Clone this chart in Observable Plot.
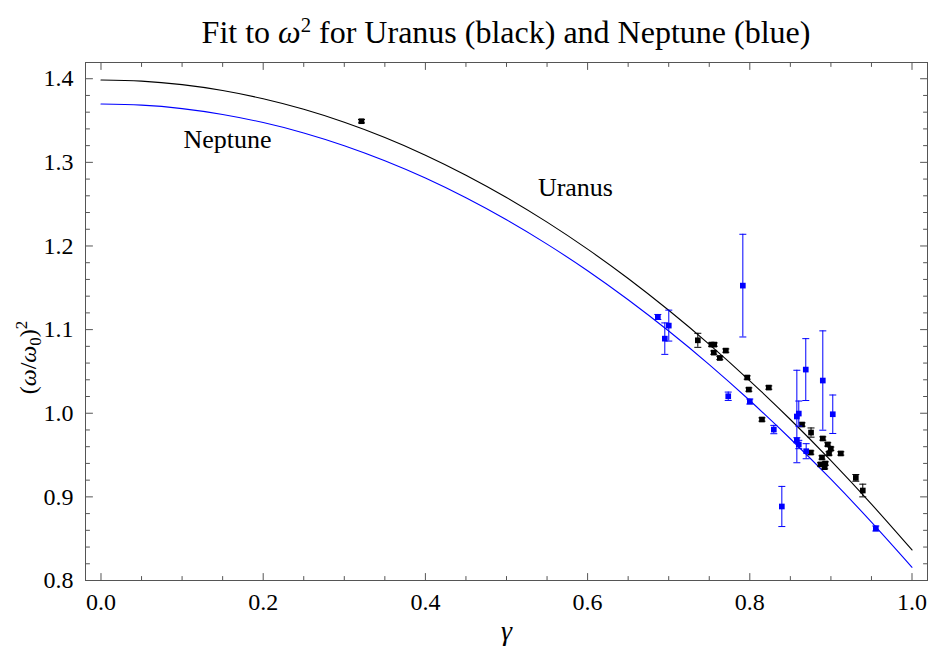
<!DOCTYPE html>
<html><head><meta charset="utf-8">
<script src="https://cdn.jsdelivr.net/npm/d3@7"></script>
<script src="https://cdn.jsdelivr.net/npm/@observablehq/plot@0.6"></script>
<style>
body{margin:0;background:#fff;}
#wrap{width:934px;height:652px;position:relative;overflow:hidden;font-family:"Liberation Serif","Times New Roman",serif;}
#title{position:absolute;left:78px;right:0;top:16px;text-align:center;font-size:32px;line-height:32px;white-space:nowrap;color:#000;}
#title sup{font-size:65%;vertical-align:0.55em;line-height:0;}
#chart{position:absolute;top:55px;left:0;}
</style></head><body>
<div id="wrap">
<div id="title">Fit to <i>ω</i><sup>2</sup> for Uranus (black) and Neptune (blue)</div>
<div id="chart"></div>
</div>
<script>
// ---- data ----
const uranusG   = [0.3212, 0.7359, 0.7528, 0.7561, 0.7556, 0.7704, 0.7630, 0.7968, 0.7988, 0.8234, 0.8150, 0.8644, 0.8755, 0.8752, 0.8900, 0.8961, 0.8999, 0.8977, 0.9122, 0.8890, 0.8872, 0.8931, 0.8923, 0.9307, 0.9393];
const uranusY   = [1.3492, 1.0872, 1.0821, 1.0821, 1.0725, 1.0749, 1.0661, 1.0427, 1.0283, 1.0307, 0.9925, 0.9865, 0.9769, 0.9530, 0.9698, 0.9627, 0.9576, 0.9519, 0.9519, 0.9471, 0.9388, 0.9399, 0.9355, 0.9227, 0.9076];
const uranusErr = [0.002, 0.0084, 0.002, 0.002, 0.002, 0.002, 0.002, 0.002, 0.002, 0.002, 0.002, 0.002, 0.0055, 0.002, 0.002, 0.002, 0.002, 0.002, 0.002, 0.002, 0.002, 0.002, 0.002, 0.004, 0.0076];

const neptuneG   = [0.6866, 0.7001, 0.6952, 0.7914, 0.7734, 0.8000, 0.8296, 0.8690, 0.8900, 0.9023, 0.8604, 0.8580, 0.8580, 0.8604, 0.8695, 0.8395, 0.9554];
const neptuneY   = [1.1151, 1.1048, 1.0892, 1.1526, 1.0203, 1.0140, 0.9805, 1.0522, 1.0391, 0.9988, 0.9996, 0.9961, 0.9677, 0.9626, 0.9546, 0.8885, 0.8622];
const neptuneErr = [0.003, 0.0185, 0.0188, 0.0614, 0.005, 0.003, 0.005, 0.037, 0.0594, 0.023, 0.015, 0.0553, 0.003, 0.005, 0.009, 0.024, 0.003];

// fitted curves, read at regular gamma steps
const gammaGrid  = [0, 0.05, 0.1, 0.15, 0.2, 0.25, 0.3, 0.35, 0.4, 0.45, 0.5, 0.55, 0.6, 0.65, 0.7, 0.75, 0.8, 0.85, 0.9, 0.95, 1.0];
const uranusFit  = [1.3985, 1.3971, 1.3929, 1.3859, 1.3760, 1.3634, 1.3479, 1.3297, 1.3086, 1.2847, 1.2580, 1.2285, 1.1962, 1.1611, 1.1231, 1.0824, 1.0388, 0.9925, 0.9433, 0.8913, 0.8365];
const neptuneFit = [1.3698, 1.3684, 1.3643, 1.3573, 1.3476, 1.3352, 1.3199, 1.3019, 1.2812, 1.2576, 1.2313, 1.2022, 1.1704, 1.1357, 1.0983, 1.0582, 1.0152, 0.9695, 0.9211, 0.8698, 0.8158];

const curveNames = ["Neptune", "Uranus"];
const curveNameG = [0.156, 0.585];
const curveNameY = [1.327, 1.270];

const xMajor = [0, 0.2, 0.4, 0.6, 0.8, 1.0];
const xLabels = ["0.0", "0.2", "0.4", "0.6", "0.8", "1.0"];
const xMinor = [0.05, 0.1, 0.15, 0.25, 0.3, 0.35, 0.45, 0.5, 0.55, 0.65, 0.7, 0.75, 0.85, 0.9, 0.95];
const yMajor = [0.8, 0.9, 1.0, 1.1, 1.2, 1.3, 1.4];
const yLabels = ["0.8", "0.9", "1.0", "1.1", "1.2", "1.3", "1.4"];
const yMinor = [0.82, 0.84, 0.86, 0.88, 0.92, 0.94, 0.96, 0.98, 1.02, 1.04, 1.06, 1.08, 1.12, 1.14, 1.16, 1.18, 1.22, 1.24, 1.26, 1.28, 1.32, 1.34, 1.36, 1.38];

const xTitle = "γ";
const yTitle = "(ω/ω0)2";

// ---- build ----
const SERIF = "'Liberation Serif', 'Times New Roman', Times, serif";
const uranus = uranusG.map((g, i) => ({g, y: uranusY[i], e: uranusErr[i]}));
const neptune = neptuneG.map((g, i) => ({g, y: neptuneY[i], e: neptuneErr[i]}));
const fitU = gammaGrid.map((g, i) => ({g, y: uranusFit[i]}));
const fitN = gammaGrid.map((g, i) => ({g, y: neptuneFit[i]}));
const names = curveNames.map((t, i) => ({t, g: curveNameG[i], y: curveNameY[i]}));

const frameColor = "#555";
const BLUE = "#0000ff";
const capSymbol = {draw(ctx, size) { const r = Math.sqrt(size / Math.PI); ctx.moveTo(-r, 0); ctx.lineTo(r, 0); }};
const tickShape = {draw(ctx, l) { ctx.moveTo(0, 0); ctx.lineTo(0, -l); }};

function series(data, color) {
  return [
    Plot.ruleX(data, {x: "g", y1: d => d.y - d.e, y2: d => d.y + d.e, stroke: color, strokeWidth: 1}),
    Plot.dot(data, {x: "g", y: d => d.y - d.e, symbol: capSymbol, r: 3.5, fill: "none", stroke: color, strokeWidth: 1}),
    Plot.dot(data, {x: "g", y: d => d.y + d.e, symbol: capSymbol, r: 3.5, fill: "none", stroke: color, strokeWidth: 1}),
    Plot.dot(data, {x: "g", y: "y", symbol: "square", r: 3.2, fill: color, stroke: "none"})
  ];
}

function ticks(values, side, len) {
  const rot = {bottom: 0, top: 180, left: 90, right: -90}[side];
  const ch = (side === "bottom" || side === "top") ? {x: d => d} : {y: d => d};
  return Plot.vector(values, {...ch, frameAnchor: side, rotate: rot, length: len, anchor: "start", shape: tickShape, stroke: frameColor, strokeWidth: 1});
}

const svg = Plot.plot({
  width: 934, height: 597,
  marginLeft: 85, marginRight: 7, marginTop: 7, marginBottom: 72,
  x: {domain: [-0.0191, 1.0191], label: null},
  y: {domain: [0.8, 1.4194], label: null},
  style: {fontSize: "24px", color: "black", background: "white", fontFamily: SERIF},
  marks: [
    Plot.line(fitU, {x: "g", y: "y", stroke: "black", strokeWidth: 1.1, curve: "natural"}),
    Plot.line(fitN, {x: "g", y: "y", stroke: BLUE, strokeWidth: 1.1, curve: "natural"}),
    ...series(uranus, "black"),
    ...series(neptune, BLUE),
    Plot.text(names, {x: "g", y: "y", text: "t", fontSize: 26, fill: "black", fontFamily: SERIF}),
    Plot.frame({stroke: frameColor, strokeWidth: 1}),
    ticks(xMajor, "bottom", 7), ticks(xMinor, "bottom", 4),
    ticks(xMajor, "top", 7), ticks(xMinor, "top", 4),
    ticks(yMajor, "left", 7), ticks(yMinor, "left", 4),
    ticks(yMajor, "right", 7), ticks(yMinor, "right", 4),
    Plot.axisX(xMajor, {anchor: "bottom", tickSize: 0, tickPadding: 12, tickFormat: d => xLabels[xMajor.indexOf(d)], label: null, fontSize: 24, fontFamily: SERIF}),
    Plot.axisY(yMajor, {anchor: "left", tickSize: 0, tickPadding: 12, tickFormat: d => yLabels[yMajor.indexOf(d)], label: null, fontSize: 24, fontFamily: SERIF}),
    Plot.text([xTitle], {frameAnchor: "bottom", lineAnchor: "middle", textAnchor: "middle", dy: 51, fontSize: 28, fontStyle: "italic", fontFamily: SERIF}),
    Plot.text([yTitle], {frameAnchor: "left", lineAnchor: "middle", textAnchor: "middle", dx: -57, dy: 36, rotate: -90, fontSize: 24, fontFamily: SERIF})
  ]
});
document.getElementById("chart").appendChild(svg);

// rich formatting of the y title
const yt = d3.select(svg).selectAll("text").filter(function() { return this.textContent === yTitle; });
yt.text(null);
yt.append("tspan").text("(");
yt.append("tspan").attr("font-style", "italic").text("ω");
yt.append("tspan").text("/");
yt.append("tspan").attr("font-style", "italic").text("ω");
yt.append("tspan").attr("font-size", "17px").attr("dy", "5").text("0");
yt.append("tspan").attr("dy", "-5").text(")");
yt.append("tspan").attr("font-size", "17px").attr("dy", "-9").text("2");
</script>
</body></html>
